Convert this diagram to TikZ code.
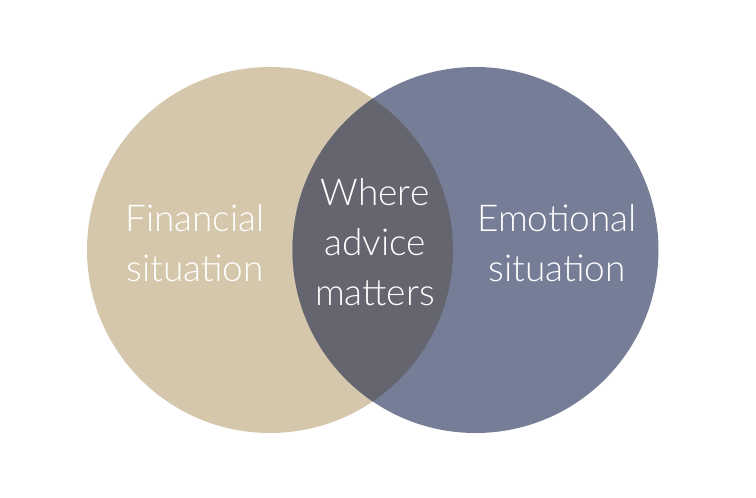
\documentclass[tikz,border=0pt]{standalone}
\usepackage{fontspec}
\setmainfont{Lato}[UprightFont=* Light]
\definecolor{sand}{HTML}{D5C7AB}
\definecolor{slate}{HTML}{767D97}
\definecolor{dusk}{HTML}{65656F}

\begin{document}
\begin{tikzpicture}[x=1pt,y=-1pt,
    set/.style={circle,minimum size=366pt,inner sep=0pt},
    label/.style={text=white,align=center,font=\fontsize{37}{50}\selectfont}]
      \useasboundingbox (0,0) rectangle (756,498);
      \node [set,fill=sand] (fin) at (270,250) {};
      \node [set,fill=slate] (emo) at (475.5,250) {};
      \begin{scope}
        \clip (fin.center) circle (183pt);
        \fill [dusk] (emo.center) circle (183pt);
      \end{scope}
      \node [label] (fintext) at (195,243) {Financial\\situation};
      \node [label] (emotext) at (557,243) {Emotional\\situation};
      \node [label] (midtext) at (375,242) {Where\\advice\\matters};
    \end{tikzpicture}
\end{document}
